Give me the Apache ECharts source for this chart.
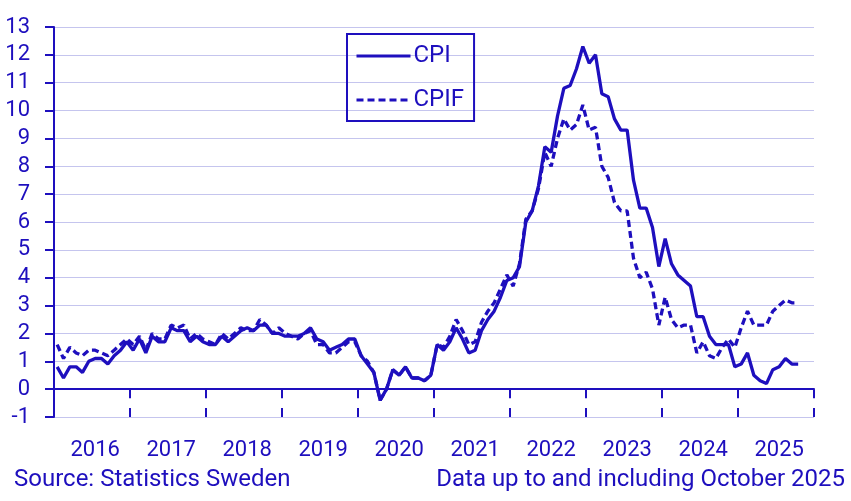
<!DOCTYPE html>
<html>
<head>
<meta charset="utf-8">
<script src="https://cdn.jsdelivr.net/npm/echarts@6/dist/echarts.min.js"></script>
<style>
    html, body {margin: 0; padding: 0; background: #fff;}
    #chart {width: 851px; height: 501px;}
</style>
</head>
<body>
<div id="chart"></div>
<script>
// annual change in percent, monthly Jan 2016 - Oct 2025
var years = ['2016', '2017', '2018', '2019', '2020', '2021', '2022', '2023', '2024', '2025'];

var cpi = [
    0.8, 0.4, 0.8, 0.8, 0.6, 1.0, 1.1, 1.1, 0.9, 1.2, 1.4, 1.7,
    1.4, 1.8, 1.3, 1.9, 1.7, 1.7, 2.2, 2.1, 2.1, 1.7, 1.9, 1.7,
    1.6, 1.6, 1.9, 1.7, 1.9, 2.1, 2.2, 2.1, 2.3, 2.3, 2.0, 2.0,
    1.9, 1.9, 1.9, 2.0, 2.2, 1.8, 1.7, 1.4, 1.5, 1.6, 1.8, 1.8,
    1.2, 0.9, 0.6, -0.4, 0.0, 0.7, 0.5, 0.8, 0.4, 0.4, 0.3, 0.5,
    1.6, 1.4, 1.7, 2.2, 1.8, 1.3, 1.4, 2.1, 2.5, 2.8, 3.3, 3.9,
    4.0, 4.4, 6.0, 6.4, 7.3, 8.7, 8.5, 9.8, 10.8, 10.9, 11.5, 12.3,
    11.7, 12.0, 10.6, 10.5, 9.7, 9.3, 9.3, 7.5, 6.5, 6.5, 5.8, 4.4,
    5.4, 4.5, 4.1, 3.9, 3.7, 2.6, 2.6, 1.9, 1.6, 1.6, 1.6, 0.8,
    0.9, 1.3, 0.5, 0.3, 0.2, 0.7, 0.8, 1.1, 0.9, 0.9
];

var cpif = [
    1.6, 1.1, 1.5, 1.3, 1.2, 1.4, 1.4, 1.3, 1.2, 1.4, 1.6, 1.8,
    1.6, 1.9, 1.4, 2.0, 1.8, 1.8, 2.3, 2.2, 2.3, 1.8, 2.0, 1.8,
    1.7, 1.6, 2.0, 1.8, 2.0, 2.2, 2.1, 2.1, 2.5, 2.3, 2.0, 2.2,
    2.0, 1.9, 1.8, 2.0, 2.1, 1.6, 1.6, 1.3, 1.3, 1.5, 1.7, 1.7,
    1.2, 1.0, 0.6, -0.4, 0.0, 0.7, 0.5, 0.8, 0.4, 0.4, 0.3, 0.5,
    1.6, 1.5, 1.9, 2.5, 2.1, 1.6, 1.7, 2.4, 2.8, 3.1, 3.6, 4.1,
    3.7, 4.5, 6.1, 6.4, 7.2, 8.5, 8.0, 9.0, 9.7, 9.3, 9.5, 10.2,
    9.3, 9.4, 8.0, 7.6, 6.7, 6.4, 6.4, 4.7, 4.0, 4.2, 3.6, 2.3,
    3.3, 2.5, 2.2, 2.3, 2.3, 1.3, 1.7, 1.2, 1.1, 1.5, 1.8, 1.5,
    2.2, 2.8, 2.3, 2.3, 2.3, 2.8, 3.0, 3.2, 3.1, 3.1
];

var months = [];
years.forEach(function (y) {
    for (var m = 1; m <= 12; m++) {
        months.push(y + '-' + (m < 10 ? '0' + m : m));
    }
});

var blue = '#1e0fbe';
var font = 'Roboto';

var myChart = echarts.init(document.getElementById('chart'));

var option = {
    animation: false,
    textStyle: {fontFamily: font},
    grid: {left: 54, right: 37, top: 27, bottom: 84},
    title: [{
        text: 'Source: Statistics Sweden',
        left: 14, top: 468, padding: 0,
        textStyle: {color: blue, fontSize: 24, fontWeight: 'normal', fontFamily: font}
    }, {
        text: 'Data up to and including October 2025',
        right: 6, top: 468, padding: 0,
        textStyle: {color: blue, fontSize: 24, fontWeight: 'normal', fontFamily: font}
    }],
    legend: {
        orient: 'vertical',
        left: 347,
        top: 34,
        padding: [10, 10, 9, 8],
        itemGap: 20,
        itemWidth: 54,
        itemHeight: 14,
        borderColor: blue,
        borderWidth: 2,
        itemStyle: {opacity: 0},
        lineStyle: {width: 3},
        textStyle: {color: blue, fontSize: 24, fontFamily: font, padding: [0, 0, 0, -2]},
        data: ['CPI', 'CPIF']
    },
    xAxis: [{
        // year labels
        type: 'category',
        data: months,
        position: 'bottom',
        axisLine: {show: false, onZero: false},
        axisTick: {show: false},
        axisLabel: {
            color: blue,
            fontSize: 22,
            margin: 22,
            interval: function (index) { return index % 12 === 6; },
            formatter: function (value) { return value.slice(0, 4); }
        }
    }, {
        // axis line at zero, ticks below
        type: 'category',
        data: months,
        position: 'bottom',
        axisLine: {show: true, onZero: true, lineStyle: {color: blue, width: 2}},
        axisTick: {
            show: true, length: 9,
            interval: function (index) { return index % 12 === 0; },
            lineStyle: {color: blue, width: 2}
        },
        axisLabel: {show: false}
    }, {
        // ticks above zero line
        type: 'category',
        data: months,
        position: 'bottom',
        axisLine: {show: false, onZero: true},
        axisTick: {
            show: true, inside: true, length: 9,
            interval: function (index) { return index % 12 === 0; },
            lineStyle: {color: blue, width: 2}
        },
        axisLabel: {show: false}
    }],
    yAxis: {
        type: 'value',
        min: -1,
        max: 13,
        interval: 1,
        axisLine: {show: true, lineStyle: {color: blue, width: 2}},
        axisTick: {show: true, length: 9, lineStyle: {color: blue, width: 2}},
        axisLabel: {color: blue, fontSize: 22, margin: 24},
        splitLine: {lineStyle: {color: '#c5c5ee', width: 1}}
    },
    series: [{
        name: 'CPI',
        type: 'line',
        data: cpi,
        showSymbol: false,
        symbol: 'none',
        lineStyle: {color: blue, width: 3.3},
        itemStyle: {color: blue}
    }, {
        name: 'CPIF',
        type: 'line',
        data: cpif,
        showSymbol: false,
        symbol: 'none',
        lineStyle: {color: blue, width: 3.3, type: [7, 4]},
        itemStyle: {color: blue}
    }]
};

myChart.setOption(option);
</script>
</body>
</html>
